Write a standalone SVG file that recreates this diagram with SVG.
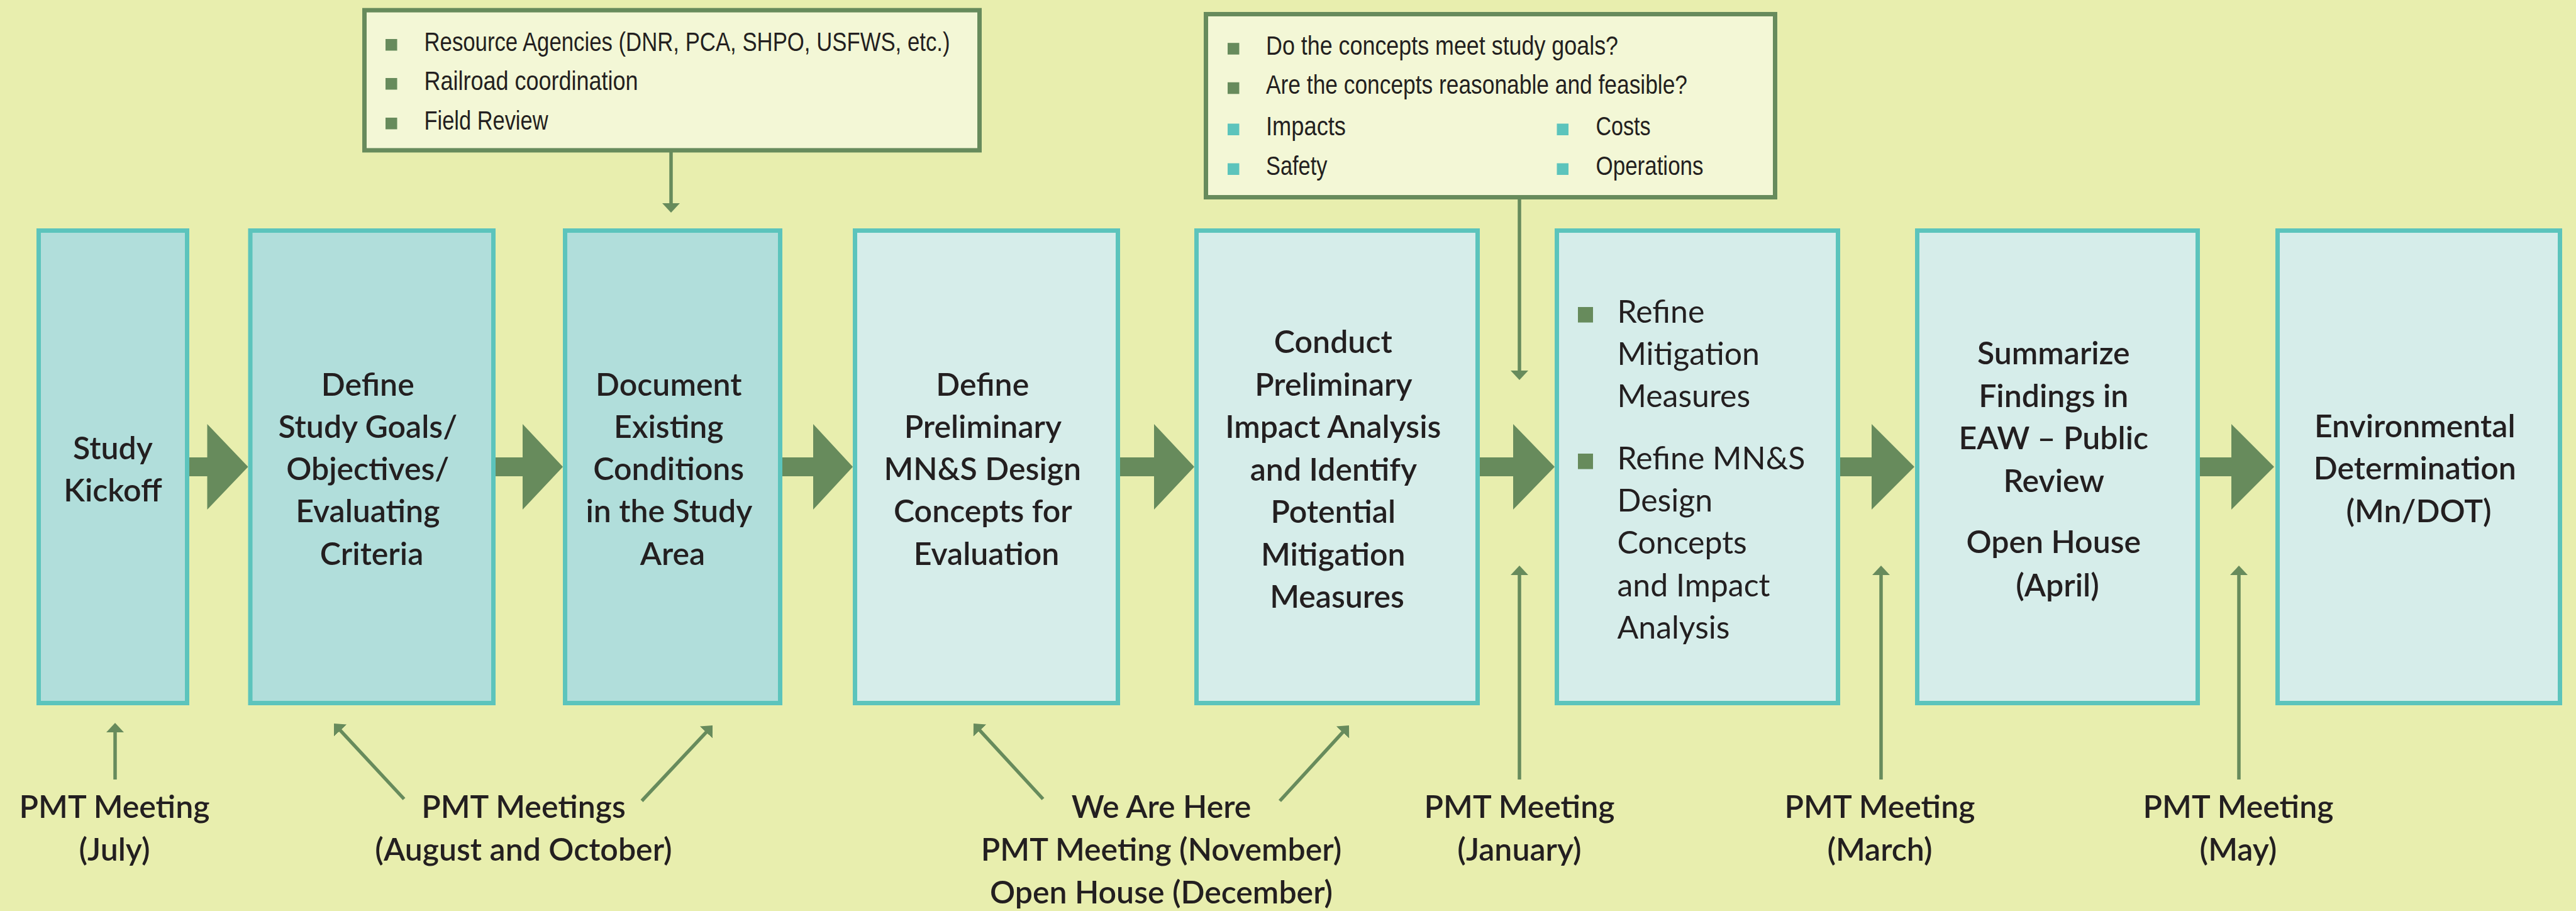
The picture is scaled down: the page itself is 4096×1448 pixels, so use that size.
<svg xmlns="http://www.w3.org/2000/svg" width="4096" height="1448" viewBox="0 0 4096 1448">
  <style>
    .step-dark { fill: #b1dedb; stroke: #5cc4bc; stroke-width: 7; }
    .step-light { fill: #d6edea; stroke: #5cc4bc; stroke-width: 7; }
    .callout { fill: #f3f7d6; stroke: #678b5c; stroke-width: 7; }
    .flow { fill: #678b5c; }
    .link { stroke: #678b5c; stroke-width: 5.5; fill: none; marker-end: url(#head); }
    .lbl { font-family: Lato, "Open Sans", "Liberation Sans", sans-serif; font-size: 50px; font-weight: 600; fill: #231f20; text-anchor: middle; }
    .lbl-book { font-family: Lato, "Open Sans", "Liberation Sans", sans-serif; font-size: 50px; font-weight: 400; fill: #231f20; }
    .note { font-family: "Liberation Sans", Arial, sans-serif; font-size: 43px; fill: #231f20; }
    .bul-g { fill: #678b5c; }
    .bul-t { fill: #5cc4bc; }
  </style>
  <defs>
    <marker id="head" viewBox="0 0 15 28" refX="3" refY="14" markerWidth="15" markerHeight="28" markerUnits="userSpaceOnUse" orient="auto">
      <path d="M0,0 L15,14 L0,28 Z" fill="#678b5c"/>
    </marker>
  </defs>

  <rect x="0" y="0" width="4096" height="1448" fill="#e8eeae"/>

  <!-- broad flow arrows between the stages -->
  <g id="connectors">
    <polygon class="flow" points="301,727 329.5,727 329.5,674 394.5,742 329.5,810 329.5,757 301,757"/>
    <polygon class="flow" points="788,727 831,727 831,674 895,742 831,810 831,757 788,757"/>
    <polygon class="flow" points="1244,727 1293,727 1293,674 1356,742 1293,810 1293,757 1244,757"/>
    <polygon class="flow" points="1781,727 1835,727 1835,674 1899,742 1835,810 1835,757 1781,757"/>
    <polygon class="flow" points="2353,727 2406,727 2406,674 2472,742 2406,810 2406,757 2353,757"/>
    <polygon class="flow" points="2926,727 2976,727 2976,674 3044,742 2976,810 2976,757 2926,757"/>
    <polygon class="flow" points="3498,727 3548,727 3548,674 3616,742 3548,810 3548,757 3498,757"/>

    <!-- thin pointers from notes and meetings -->
    <line class="link" x1="1067" y1="242" x2="1067" y2="326"/>
    <line class="link" x1="2416" y1="317" x2="2416" y2="592"/>
    <line class="link" x1="183" y1="1239" x2="183" y2="1161"/>
    <line class="link" x1="642.5" y1="1270" x2="539.2" y2="1158.8"/>
    <line class="link" x1="1020.5" y1="1273" x2="1124.8" y2="1161.8"/>
    <line class="link" x1="1658.5" y1="1270" x2="1556.1" y2="1158.8"/>
    <line class="link" x1="2035" y1="1273" x2="2136.9" y2="1161.8"/>
    <line class="link" x1="2416" y1="1239" x2="2416" y2="911"/>
    <line class="link" x1="2991" y1="1239" x2="2991" y2="911"/>
    <line class="link" x1="3560" y1="1239" x2="3560" y2="911"/>
  </g>

  <!-- stages -->
  <g id="study-kickoff">
    <rect class="step-dark" x="61.5" y="366.5" width="236" height="751"/>
    <text class="lbl" x="179.5"><tspan x="179.5" y="729.5">Study</tspan><tspan x="179.5" y="796.8">Kickoff</tspan></text>
  </g>

  <g id="define-goals">
    <rect class="step-dark" x="398" y="366.5" width="386.5" height="751"/>
    <text class="lbl">
      <tspan x="591" y="628.5">Define</tspan>
      <tspan x="591" y="695.8">Study Goals/</tspan>
      <tspan x="591" y="763.1">Objectives/</tspan>
      <tspan x="591" y="830.4">Evaluating</tspan>
      <tspan x="591" y="897.7">Criteria</tspan>
    </text>
  </g>

  <g id="document-conditions">
    <rect class="step-dark" x="898.5" y="366.5" width="342" height="751"/>
    <text class="lbl">
      <tspan x="1069.5" y="628.5">Document</tspan>
      <tspan x="1069.5" y="695.8">Existing</tspan>
      <tspan x="1069.5" y="763.1">Conditions</tspan>
      <tspan x="1069.5" y="830.4">in the Study</tspan>
      <tspan x="1069.5" y="897.7">Area</tspan>
    </text>
  </g>

  <g id="define-concepts">
    <rect class="step-light" x="1359.5" y="366.5" width="418" height="751"/>
    <text class="lbl">
      <tspan x="1568.5" y="628.5">Define</tspan>
      <tspan x="1568.5" y="695.8">Preliminary</tspan>
      <tspan x="1568.5" y="763.1">MN&amp;S Design</tspan>
      <tspan x="1568.5" y="830.4">Concepts for</tspan>
      <tspan x="1568.5" y="897.7">Evaluation</tspan>
    </text>
  </g>

  <g id="impact-analysis">
    <rect class="step-light" x="1902.5" y="366.5" width="447" height="751"/>
    <text class="lbl">
      <tspan x="2126" y="561">Conduct</tspan>
      <tspan x="2126" y="628.5">Preliminary</tspan>
      <tspan x="2126" y="696">Impact Analysis</tspan>
      <tspan x="2126" y="763.5">and Identify</tspan>
      <tspan x="2126" y="831">Potential</tspan>
      <tspan x="2126" y="898.5">Mitigation</tspan>
      <tspan x="2126" y="966">Measures</tspan>
    </text>
  </g>

  <g id="refine">
    <rect class="step-light" x="2475.5" y="366.5" width="447" height="751"/>
    <rect class="bul-g" x="2509" y="488" width="24" height="24.6"/>
    <rect class="bul-g" x="2509" y="721" width="24" height="24.6"/>
    <text class="lbl-book">
      <tspan x="2571.5" y="512.6">Refine</tspan>
      <tspan x="2571.5" y="579.6">Mitigation</tspan>
      <tspan x="2571.5" y="647">Measures</tspan>
      <tspan x="2571.5" y="745.6">Refine MN&amp;S</tspan>
      <tspan x="2571.5" y="813">Design</tspan>
      <tspan x="2571.5" y="880">Concepts</tspan>
      <tspan x="2571.5" y="947.6">and Impact</tspan>
      <tspan x="2571.5" y="1014.6">Analysis</tspan>
    </text>
  </g>

  <g id="summarize">
    <rect class="step-light" x="3048.5" y="366.5" width="446" height="751"/>
    <text class="lbl">
      <tspan x="3271.5" y="578.5">Summarize</tspan>
      <tspan x="3271.5" y="647">Findings in</tspan>
      <tspan x="3271.5" y="714">EAW – Public</tspan>
      <tspan x="3271.5" y="781.5">Review</tspan>
      <tspan x="3271.5" y="879">Open House</tspan>
      <tspan x="3271.5" y="947.7">(April)</tspan>
    </text>
  </g>

  <g id="determination">
    <rect class="step-light" x="3621.5" y="366.5" width="449" height="751"/>
    <text class="lbl">
      <tspan x="3846" y="694.5">Environmental</tspan>
      <tspan x="3846" y="762">Determination</tspan>
      <tspan x="3846" y="829.5">(Mn/DOT)</tspan>
    </text>
  </g>

  <!-- note boxes -->
  <g id="note-coordination">
    <rect class="callout" x="579.5" y="16.2" width="978" height="222.7"/>
    <rect class="bul-g" x="613" y="62" width="18.5" height="18.5"/>
    <rect class="bul-g" x="613" y="124" width="18.5" height="18.5"/>
    <rect class="bul-g" x="613" y="187" width="18.5" height="18.5"/>
    <text class="note" x="674.5" y="80.7" textLength="836" lengthAdjust="spacingAndGlyphs">Resource Agencies (DNR, PCA, SHPO, USFWS, etc.)</text>
    <text class="note" x="674.5" y="142.7" textLength="340" lengthAdjust="spacingAndGlyphs">Railroad coordination</text>
    <text class="note" x="674.5" y="205.5" textLength="197" lengthAdjust="spacingAndGlyphs">Field Review</text>
  </g>

  <g id="note-evaluation">
    <rect class="callout" x="1917.5" y="22.5" width="905" height="291"/>
    <rect class="bul-g" x="1952" y="68.2" width="18.5" height="18.5"/>
    <rect class="bul-g" x="1952" y="130.8" width="18.5" height="18.5"/>
    <rect class="bul-t" x="1952" y="196.5" width="18.5" height="18.5"/>
    <rect class="bul-t" x="1952" y="259.5" width="18.5" height="18.5"/>
    <rect class="bul-t" x="2475.5" y="196.5" width="18.5" height="18.5"/>
    <rect class="bul-t" x="2475.5" y="259.5" width="18.5" height="18.5"/>
    <text class="note" x="2013" y="86.6" textLength="560" lengthAdjust="spacingAndGlyphs">Do the concepts meet study goals?</text>
    <text class="note" x="2013" y="149.3" textLength="670" lengthAdjust="spacingAndGlyphs">Are the concepts reasonable and feasible?</text>
    <text class="note" x="2013" y="215" textLength="127" lengthAdjust="spacingAndGlyphs">Impacts</text>
    <text class="note" x="2013" y="278" textLength="97.5" lengthAdjust="spacingAndGlyphs">Safety</text>
    <text class="note" x="2537.5" y="215" textLength="87" lengthAdjust="spacingAndGlyphs">Costs</text>
    <text class="note" x="2537.5" y="278" textLength="171" lengthAdjust="spacingAndGlyphs">Operations</text>
  </g>

  <!-- meeting labels -->
  <g id="meeting-july">
    <text class="lbl"><tspan x="182" y="1300">PMT Meeting</tspan><tspan x="182" y="1368">(July)</tspan></text>
  </g>
  <g id="meetings-aug-oct">
    <text class="lbl"><tspan x="832.5" y="1300">PMT Meetings</tspan><tspan x="832.5" y="1368">(August and October)</tspan></text>
  </g>
  <g id="we-are-here">
    <text class="lbl"><tspan x="1846.5" y="1300">We Are Here</tspan><tspan x="1846.5" y="1368">PMT Meeting (November)</tspan><tspan x="1846.5" y="1435.5">Open House (December)</tspan></text>
  </g>
  <g id="meeting-january">
    <text class="lbl"><tspan x="2416" y="1300">PMT Meeting</tspan><tspan x="2416" y="1368">(January)</tspan></text>
  </g>
  <g id="meeting-march">
    <text class="lbl"><tspan x="2989" y="1300">PMT Meeting</tspan><tspan x="2989" y="1368">(March)</tspan></text>
  </g>
  <g id="meeting-may">
    <text class="lbl"><tspan x="3559" y="1300">PMT Meeting</tspan><tspan x="3559" y="1368">(May)</tspan></text>
  </g>
</svg>
